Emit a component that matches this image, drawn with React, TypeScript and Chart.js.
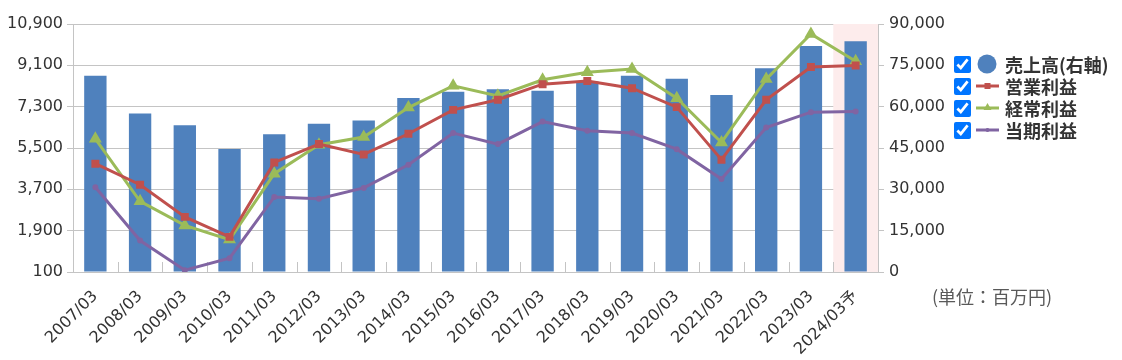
import React, { useEffect, useRef } from 'react';
import { Chart, registerables } from 'chart.js';

Chart.register(...registerables);

const categories = [
  '2007/03', '2008/03', '2009/03', '2010/03', '2011/03', '2012/03', '2013/03', '2014/03', '2015/03',
  '2016/03', '2017/03', '2018/03', '2019/03', '2020/03', '2021/03', '2022/03', '2023/03', '2024/03予',
];
const sales = [71200, 57500, 53300, 44600, 50000, 53800, 55000, 63100, 65400, 66300, 65800, 69100, 71200, 70100, 64200, 73900, 82000, 83700];
const operatingProfit = [4815, 3900, 2500, 1630, 4870, 5670, 5220, 6120, 7160, 7600, 8280, 8420, 8105, 7280, 4990, 7600, 9030, 9090];
const ordinaryProfit = [5900, 3180, 2130, 1510, 4380, 5640, 5975, 7260, 8210, 7770, 8470, 8800, 8940, 7670, 5740, 8500, 10465, 9280];
const netProfit = [3790, 1470, 180, 700, 3370, 3290, 3760, 4770, 6150, 5670, 6650, 6250, 6150, 5450, 4150, 6390, 7060, 7090];

const legendLabels = ['売上高(右軸)', '営業利益', '経常利益', '当期利益'];
const unitLabel = '(単位：百万円)';

const BLUE = '#4F81BD';
const RED = '#C0504D';
const GREEN = '#9BBB59';
const PURPLE = '#8064A2';
const GRID = '#c4c4c4';
const FONT = '"Noto Sans CJK JP", "Noto Sans", sans-serif';
const TICK_FONT = '"DejaVu Sans", "Noto Sans CJK JP", sans-serif';

const bgPlugin = {
  id: 'bgPlugin',
  beforeDatasetsDraw(chart: any) {
    const { ctx, chartArea } = chart;
    const { left, right, top, bottom } = chartArea;
    const n = categories.length;
    const w = (right - left) / n;
    ctx.save();
    ctx.fillStyle = '#fdecec';
    ctx.fillRect(left + (n - 1) * w, top, right - (left + (n - 1) * w), bottom - top);
    ctx.strokeStyle = GRID;
    ctx.lineWidth = 1;
    ctx.beginPath();
    for (let i = 1; i < n; i++) {
      const x = Math.round(left + i * w) + 0.5;
      ctx.moveTo(x, bottom);
      ctx.lineTo(x, bottom - 10);
    }
    ctx.stroke();
    ctx.restore();
  },
};

function LegendIcon({ kind }: { kind: number }) {
  if (kind === 0) {
    return (
      <svg width="26" height="22">
        <circle cx="12" cy="11" r="9.5" fill={BLUE} />
      </svg>
    );
  }
  const color = kind === 1 ? RED : kind === 2 ? GREEN : PURPLE;
  return (
    <svg width="26" height="22">
      <line x1="1" y1="11" x2="24" y2="11" stroke={color} strokeWidth="3" />
      {kind === 1 && <rect x="9.5" y="8" width="6" height="6" fill={color} />}
      {kind === 2 && <polygon points="12.5,6 16.5,13 8.5,13" fill={color} />}
      {kind === 3 && <circle cx="12.5" cy="11" r="2" fill={color} />}
    </svg>
  );
}

export default function App() {
  const canvasRef = useRef<HTMLCanvasElement | null>(null);

  useEffect(() => {
    if (!canvasRef.current) return;
    const chart = new Chart(canvasRef.current, {
      type: 'bar',
      data: {
        labels: categories,
        datasets: [
          {
            type: 'line',
            label: legendLabels[3],
            data: netProfit,
            yAxisID: 'y',
            borderColor: PURPLE,
            backgroundColor: PURPLE,
            borderWidth: 3,
            pointRadius: 1.5,
            pointStyle: 'circle',
            tension: 0,
            order: 1,
          },
          {
            type: 'line',
            label: legendLabels[1],
            data: operatingProfit,
            yAxisID: 'y',
            borderColor: RED,
            backgroundColor: RED,
            borderWidth: 3,
            pointRadius: 3.5,
            pointStyle: 'rect',
            tension: 0,
            order: 2,
          },
          {
            type: 'line',
            label: legendLabels[2],
            data: ordinaryProfit,
            yAxisID: 'y',
            borderColor: GREEN,
            backgroundColor: GREEN,
            borderWidth: 3,
            pointRadius: 4.5,
            pointStyle: 'triangle',
            tension: 0,
            order: 3,
          },
          {
            type: 'bar',
            label: legendLabels[0],
            data: sales,
            yAxisID: 'y1',
            backgroundColor: BLUE,
            barPercentage: 0.5,
            categoryPercentage: 1.0,
            order: 10,
          },
        ],
      },
      options: {
        animation: false,
        responsive: false,
        maintainAspectRatio: false,
        layout: { padding: { top: 24, left: 0, right: 0, bottom: 0 } },
        plugins: { legend: { display: false }, tooltip: { enabled: false } },
        scales: {
          x: {
            grid: { display: false },
            border: { display: false },
            ticks: {
              minRotation: 45,
              maxRotation: 45,
              padding: 7,
              color: '#333',
              font: { family: TICK_FONT, size: 16 },
              autoSkip: false,
            },
            afterFit(scale: any) {
              scale.height = 88;
            },
          },
          y: {
            position: 'left',
            min: 100,
            max: 10900,
            ticks: {
              stepSize: 1800,
              padding: 4,
              color: '#333',
              font: { family: TICK_FONT, size: 16 },
              callback: (v: any) => Number(v).toLocaleString('en-US'),
            },
            grid: { color: GRID, lineWidth: 1, tickLength: 6, drawTicks: true },
            border: { display: true, color: GRID },
            afterFit(scale: any) {
              scale.width = 73;
            },
          },
          y1: {
            position: 'right',
            min: 0,
            max: 90000,
            ticks: {
              stepSize: 15000,
              padding: 5,
              color: '#333',
              font: { family: TICK_FONT, size: 16 },
              callback: (v: any) => Number(v).toLocaleString('en-US'),
            },
            grid: { drawOnChartArea: false, color: GRID, tickLength: 6, drawTicks: true },
            border: { display: true, color: GRID },
            afterFit(scale: any) {
              scale.width = 244;
            },
          },
        },
      },
      plugins: [bgPlugin],
    } as any);
    return () => chart.destroy();
  }, []);

  return (
    <div style={{ position: 'fixed', left: 0, top: 0, width: 1122, height: 360, fontFamily: FONT, background: '#fff' }}>
      <canvas ref={canvasRef} width={1122} height={360} style={{ position: 'absolute', left: 0, top: 0, width: 1122, height: 360 }} />
      <div style={{ position: 'absolute', left: 954, top: 53 }}>
        {legendLabels.map((lab, i) => (
          <div key={lab} style={{ display: 'flex', alignItems: 'center', height: 22 }}>
            <input type="checkbox" defaultChecked style={{ width: 17, height: 17, margin: 0 }} />
            <div style={{ marginLeft: 4, display: 'flex' }}>
              <LegendIcon kind={i} />
            </div>
            <span style={{ marginLeft: 4, fontSize: 18, fontWeight: 'bold', color: '#333', whiteSpace: 'nowrap' }}>{lab}</span>
          </div>
        ))}
      </div>
      <div style={{ position: 'absolute', left: 932, top: 283, fontSize: 18, color: '#595959', whiteSpace: 'nowrap' }}>
        {unitLabel}
      </div>
    </div>
  );
}
